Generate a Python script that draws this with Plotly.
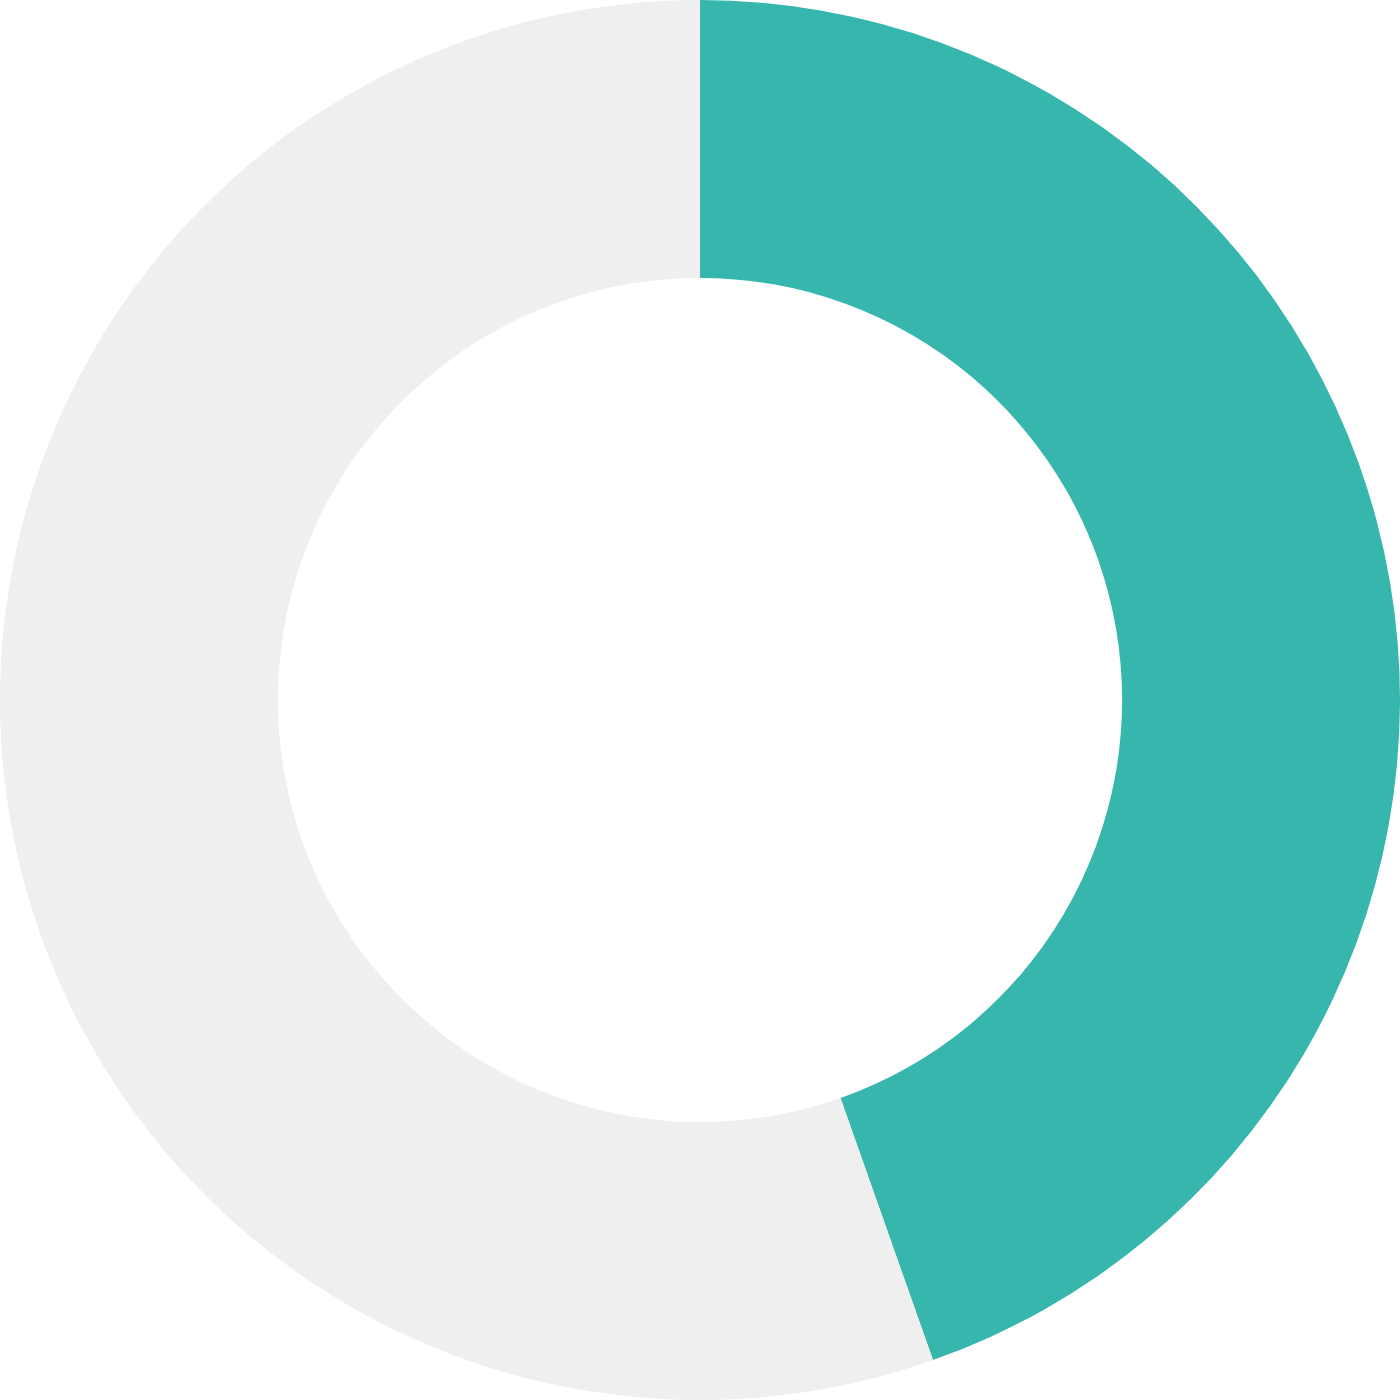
import plotly.graph_objects as go

labels = ["Done", "Remaining"]
values = [44.6, 55.4]
colors = ["#37B6AE", "#EFEFEF"]

fig = go.Figure(
    go.Pie(
        labels=labels,
        values=values,
        hole=0.603,
        sort=False,
        direction="clockwise",
        rotation=0,
        marker=dict(colors=colors, line=dict(width=0)),
        textinfo="none",
        hoverinfo="label+percent",
    )
)
fig.update_layout(
    width=1400,
    height=1400,
    margin=dict(l=0, r=0, t=0, b=0),
    showlegend=False,
    paper_bgcolor="white",
    plot_bgcolor="white",
)
# drop the default body margin so the donut sits flush in the window
fig.write_html(
    "out.html",
    config={"displayModeBar": False},
    post_script="document.body.style.margin='0';document.body.style.overflow='hidden';",
)
